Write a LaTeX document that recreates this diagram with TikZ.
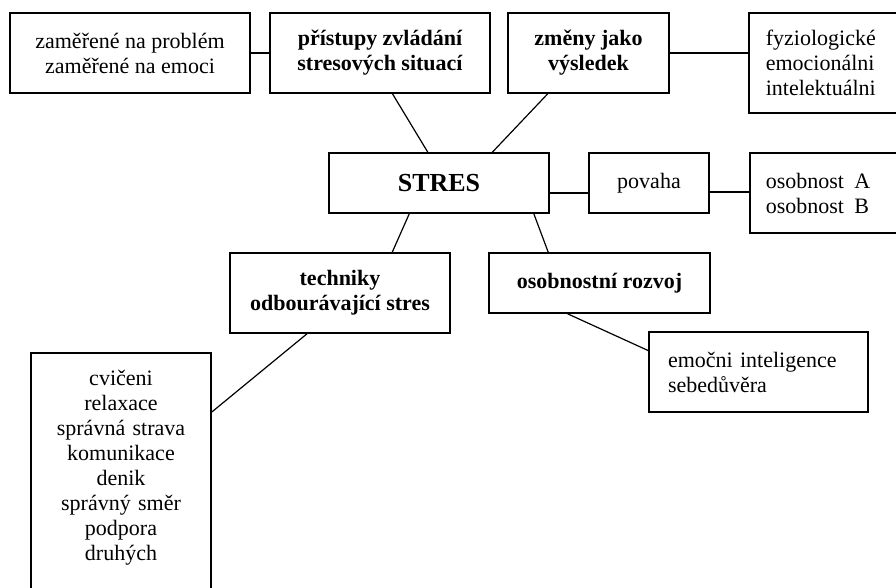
\documentclass[tikz,border=0pt]{standalone}
\usepackage{fontspec}
\setmainfont{Liberation Serif}
\begin{document}
\begin{tikzpicture}[x=1pt, y=-1pt, line width=1.2pt,
    box/.style = {draw, line width=1.6pt, inner sep=0pt, align=center, font=\fontsize{22}{25}\selectfont},
    head/.style = {box, font=\fontsize{22}{25}\selectfont\bfseries}]
    \clip (0,0) rectangle (896,587);
    \fill[white] (0,0) rectangle (896,587);
    % top row
    \node[box, minimum width=240pt, minimum height=80pt] (zam) at (130,53) {zaměřené na problém\\zaměřené na emoci};
    \node[head, minimum width=220pt, minimum height=80pt] (pristupy) at (380,53) {přístupy zvládání\\stresových situací};
    \node[head, minimum width=161pt, minimum height=80pt] (zmeny) at (588.5,53) {změny jako\\výsledek};
    \node[box, anchor=west, text width=166pt, align=left, inner xsep=17pt, minimum height=100pt] (fyzio) at (748,63) {fyziologické\\emocionálni\\intelektuálni};
    % middle row
    \node[box, minimum width=220pt, minimum height=60pt, font=\fontsize{26}{30}\selectfont\bfseries] (stres) at (439,183) {STRES};
    \node[box, minimum width=120pt, minimum height=60pt] (povaha) at (649,183) {povaha};
    \node[box, anchor=west, text width=166pt, align=left, inner xsep=16pt, minimum height=80pt] (osobnost) at (749,193) {osobnost\hspace{3pt} A\\osobnost\hspace{3pt} B};
    % bottom
    \node[head, minimum width=220pt, minimum height=80pt] (techniky) at (340,293) {techniky\\odbourávající stres};
    \node[head, minimum width=221pt, minimum height=60pt] (rozvoj) at (599.5,283) {osobnostní rozvoj};
    \node[box, text width=181pt, align=left, inner xsep=19pt, minimum height=80pt] (emocni) at (758.5,372) {emočni inteligence\\sebedůvěra};
    \node[box, anchor=north, text width=160pt, inner xsep=10pt, inner ysep=17pt, text depth=240pt] (cviceni) at (121,352) {cvičeni\\relaxace\\správná strava\\komunikace\\denik\\správný směr\\podpora\\druhých};
    % connectors
    \draw (zam) -- (pristupy);
    \draw (zmeny.east) -- (zmeny.east -| fyzio.west);
    \draw (pristupy.-73) -- (stres.110);
    \draw (zmeny.-135) -- (stres.30);
    \draw ([yshift=-10pt]stres.east) -- ([yshift=-10pt]povaha.west);
    \draw ([yshift=-9pt]povaha.east) -- ([yshift=-9pt]povaha.east -| osobnost.west);
    \draw (stres.-134) -- (techniky.38);
    \draw (stres.-18) -- (rozvoj.149);
    \draw (techniky.-129) -- ([yshift=-60pt]cviceni.north east);
    \draw (rozvoj.-136) -- (emocni.169);
\end{tikzpicture}
\end{document}
